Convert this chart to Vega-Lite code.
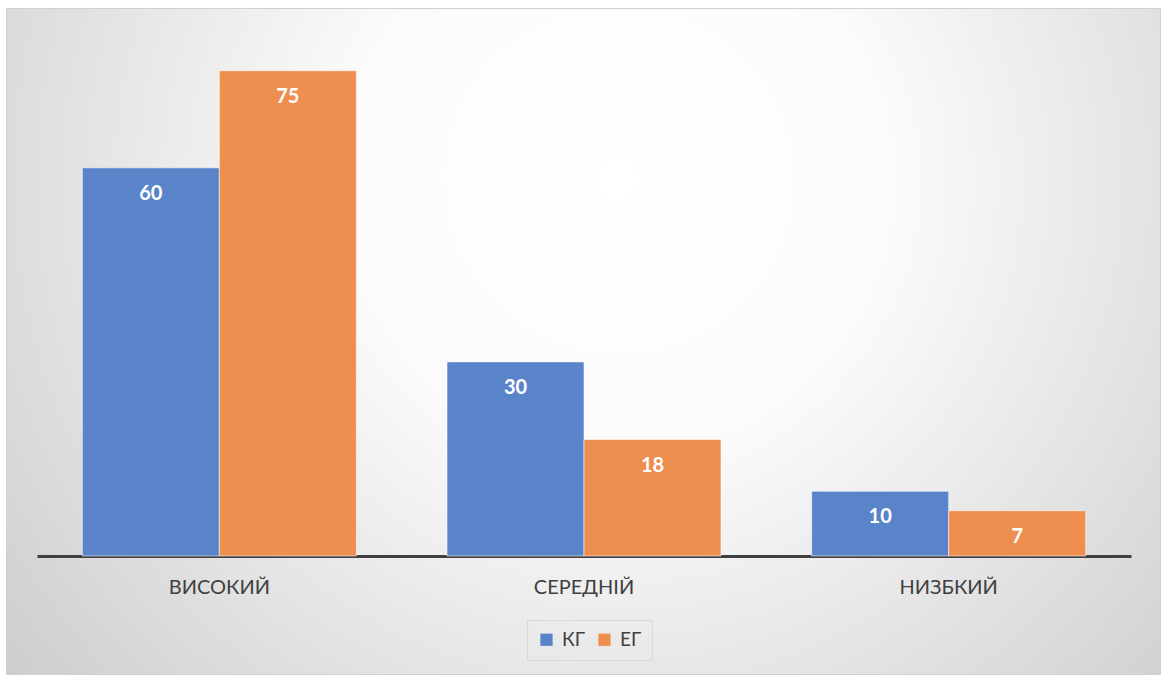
{
  "$schema": "https://vega.github.io/schema/vega-lite/v6.json",
  "width": 1154,
  "height": 666,
  "autosize": {"type": "none"},
  "padding": {"left": 6, "top": 8, "right": 6, "bottom": 3},
  "background": "#ffffff",
  "config": {
    "font": "Lato",
    "view": {
      "fill": {"gradient": "radial", "x1": 0.53, "y1": 0.36, "r1": 0, "x2": 0.53, "y2": 0.36, "r2": 0.78,
        "stops": [{"offset": 0, "color": "#ffffff"}, {"offset": 0.3, "color": "#fbfbfb"}, {"offset": 1, "color": "#c3c3c3"}]},
      "stroke": "#d0d0d0",
      "strokeWidth": 1
    }
  },
  "data": {
    "values": [
      {"level": "ВИСОКИЙ", "group": "КГ", "value": 60},
      {"level": "ВИСОКИЙ", "group": "ЕГ", "value": 75},
      {"level": "СЕРЕДНІЙ", "group": "КГ", "value": 30},
      {"level": "СЕРЕДНІЙ", "group": "ЕГ", "value": 18},
      {"level": "НИЗБКИЙ", "group": "КГ", "value": 10},
      {"level": "НИЗБКИЙ", "group": "ЕГ", "value": 7}
    ]
  },
  "encoding": {
    "x": {
      "field": "level", "type": "nominal",
      "sort": ["ВИСОКИЙ", "СЕРЕДНІЙ", "НИЗБКИЙ"],
      "scale": {"range": [31, 1125], "paddingInner": 0.2487, "paddingOuter": 0.1243},
      "axis": {
        "orient": "bottom", "offset": -118, "title": null, "labelAngle": 0,
        "domain": true, "domainColor": "#404040", "domainWidth": 3,
        "ticks": false, "grid": false, "labelPadding": 21,
        "labelFontSize": 20, "labelColor": "#404040", "labelFont": "Lato"
      }
    },
    "xOffset": {"field": "group", "type": "nominal", "sort": ["КГ", "ЕГ"], "scale": {"paddingInner": 0, "paddingOuter": 0}},
    "y": {
      "field": "value", "type": "quantitative", "stack": null,
      "scale": {"domain": [-18.24, 84.7], "nice": false, "zero": false},
      "axis": null
    }
  },
  "layer": [
    {
      "mark": {"type": "bar", "stroke": "#ffffff", "strokeWidth": 0.7, "strokeOpacity": 0.8},
      "encoding": {
        "y2": {"datum": 0},
        "color": {
          "field": "group", "type": "nominal",
          "scale": {"domain": ["КГ", "ЕГ"], "range": ["#5A84CA", "#EE8E4F"]},
          "legend": {
            "orient": "none", "legendX": 521, "legendY": 612,
            "direction": "horizontal", "title": null,
            "symbolType": "square", "symbolSize": 150, "symbolStrokeWidth": 0, "symbolOpacity": 1,
            "labelFontSize": 19, "labelColor": "#404040", "labelFont": "Lato",
            "strokeColor": "#d9d9d9", "padding": 10, "columnPadding": 10, "labelOffset": 6
          }
        }
      }
    },
    {
      "mark": {"type": "text", "dy": 26, "color": "#ffffff", "fontWeight": "bold", "fontSize": 20, "font": "Lato", "baseline": "middle"},
      "encoding": {
        "text": {"field": "value", "type": "quantitative"}
      }
    }
  ]
}
